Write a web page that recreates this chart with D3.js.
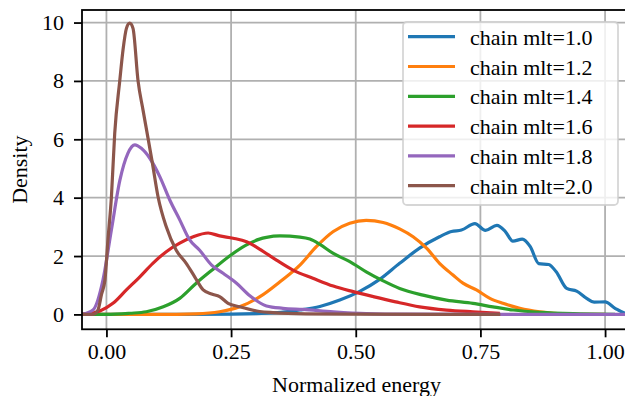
<!DOCTYPE html>
<html lang="en">
<head>
<meta charset="utf-8">
<script src="https://d3js.org/d3.v7.min.js"></script>
<style>
  body { margin: 0; background: #fff; }
  text { font-family: "Liberation Serif", "DejaVu Serif", serif; fill: #000; }
</style>
</head>
<body>
<div id="chart"></div>
<script>
    // legend labels, one per series
    const labels = ["chain mlt=1.0", "chain mlt=1.2", "chain mlt=1.4", "chain mlt=1.6", "chain mlt=1.8", "chain mlt=2.0"]
    const colors = ["#1f77b4", "#ff7f0e", "#2ca02c", "#d62728", "#9467bd", "#8c564b"]

    // tick values
    const xTicks = [0, 0.25, 0.5, 0.75, 1.0]
    const yTicks = [0, 2, 4, 6, 8, 10]

    // density curves (x = normalized energy, y = density)
    const x10 = [-0.05, 0.15, 0.25, 0.30, 0.35, 0.388, 0.428, 0.468, 0.508, 0.548, 0.588, 0.628, 0.668, 0.692, 0.712, 0.739, 0.760, 0.783, 0.800, 0.815, 0.834, 0.850, 0.867, 0.887, 0.902, 0.923, 0.943, 0.963, 0.978, 1.000, 1.020, 1.040, 1.06]
    const y10 = [0, 0, 0.01, 0.03, 0.07, 0.15, 0.27, 0.49, 0.79, 1.2, 1.75, 2.27, 2.66, 2.84, 2.89, 3.11, 2.88, 3.05, 2.84, 2.51, 2.58, 2.32, 1.74, 1.71, 1.46, 0.89, 0.80, 0.55, 0.42, 0.43, 0.21, 0.04, 0]

    const x12 = [-0.05, 0.10, 0.18, 0.227, 0.267, 0.307, 0.348, 0.388, 0.421, 0.455, 0.488, 0.521, 0.555, 0.588, 0.615, 0.642, 0.668, 0.695, 0.715, 0.742, 0.769, 0.795, 0.829, 0.869, 0.92, 0.97, 1.0]
    const y12 = [0, 0, 0.02, 0.09, 0.26, 0.60, 1.12, 1.69, 2.32, 2.84, 3.12, 3.22, 3.15, 2.93, 2.66, 2.27, 1.75, 1.35, 1.07, 0.84, 0.55, 0.38, 0.21, 0.09, 0.02, 0, 0]

    const x14 = [-0.05, 0.0, 0.047, 0.080, 0.114, 0.147, 0.180, 0.214, 0.247, 0.281, 0.307, 0.321, 0.348, 0.388, 0.408, 0.428, 0.455, 0.488, 0.521, 0.555, 0.588, 0.635, 0.682, 0.735, 0.775, 0.816, 0.869, 0.95, 1.02]
    const y14 = [0, 0, 0.04, 0.09, 0.26, 0.55, 1.07, 1.55, 2.0, 2.38, 2.58, 2.64, 2.69, 2.65, 2.58, 2.40, 2.09, 1.81, 1.46, 1.15, 0.89, 0.66, 0.49, 0.38, 0.26, 0.15, 0.07, 0.02, 0]

    const x16 = [-0.05, -0.013, 0.013, 0.040, 0.067, 0.093, 0.120, 0.147, 0.174, 0.204, 0.227, 0.254, 0.281, 0.307, 0.341, 0.374, 0.414, 0.455, 0.495, 0.535, 0.58, 0.628, 0.682, 0.735, 0.789]
    const y16 = [0, 0.12, 0.38, 0.84, 1.29, 1.75, 2.15, 2.44, 2.66, 2.79, 2.69, 2.61, 2.49, 2.24, 1.86, 1.52, 1.24, 0.97, 0.78, 0.61, 0.43, 0.26, 0.15, 0.09, 0.04]

    const x18 = [-0.05, -0.027, -0.007, 0.010, 0.027, 0.043, 0.057, 0.070, 0.087, 0.107, 0.127, 0.147, 0.167, 0.187, 0.211, 0.234, 0.261, 0.287, 0.321, 0.354, 0.394, 0.455, 0.521, 0.6, 1.06]
    const y18 = [0, 0.15, 1.18, 2.9, 4.6, 5.52, 5.81, 5.69, 5.35, 4.72, 3.92, 3.24, 2.55, 2.2, 1.69, 1.41, 1.07, 0.65, 0.29, 0.21, 0.17, 0.09, 0.03, 0.01, 0]

    const x20 = [-0.05, -0.027, -0.017, -0.010, -0.003, 0.003, 0.010, 0.0166, 0.0267, 0.0333, 0.0401, 0.0467, 0.0533, 0.0634, 0.0734, 0.0834, 0.092, 0.1035, 0.120, 0.140, 0.160, 0.177, 0.194, 0.211, 0.227, 0.244, 0.267, 0.307, 0.334, 0.4, 0.5, 0.79]
    const y20 = [0, 0, 0.15, 0.68, 1.18, 2.55, 4.03, 6.2, 8.0, 9.07, 9.8, 9.98, 9.8, 8.0, 7.0, 6.04, 5.2, 4.03, 3.0, 2.2, 1.75, 1.29, 0.84, 0.70, 0.61, 0.38, 0.26, 0.10, 0.06, 0.02, 0.01, 0]

    const seriesX = [x10, x12, x14, x16, x18, x20]
    const seriesY = [y10, y12, y14, y16, y18, y20]

    // plot box
    const W = 625, H = 396
    const margin = { left: 82, right: 631, top: 10, bottom: 329.3 }

    const svg = d3.select("#chart").append("svg")
        .attr("width", W)
        .attr("height", H)

    const x = d3.scaleLinear().domain([-0.049, 1.052]).range([margin.left, margin.right])
    const y = d3.scaleLinear().domain([-0.51, 10.43]).range([margin.bottom, margin.top])

    svg.append("clipPath").attr("id", "clip")
        .append("rect")
        .attr("x", margin.left).attr("y", margin.top)
        .attr("width", margin.right - margin.left).attr("height", margin.bottom - margin.top)

    // grid
    const grid = svg.append("g")
    grid.selectAll(".gx").data(xTicks).enter().append("line")
        .attr("x1", d => x(d)).attr("x2", d => x(d))
        .attr("y1", margin.top).attr("y2", margin.bottom)
        .attr("stroke", "#b0b0b0").attr("stroke-width", 1.8)
    grid.selectAll(".gy").data(yTicks).enter().append("line")
        .attr("x1", margin.left).attr("x2", margin.right)
        .attr("y1", d => y(d)).attr("y2", d => y(d))
        .attr("stroke", "#b0b0b0").attr("stroke-width", 1.8)

    // curves
    const line = d3.line()
        .x(d => x(d[0]))
        .y(d => y(d[1]))
        .curve(d3.curveMonotoneX)

    svg.append("g").attr("clip-path", "url(#clip)")
        .selectAll("path")
        .data(seriesX.map((xs, i) => xs.map((v, j) => [v, seriesY[i][j]])))
        .enter().append("path")
        .attr("d", line)
        .attr("fill", "none")
        .attr("stroke", (d, i) => colors[i])
        .attr("stroke-width", 3.2)
        .attr("stroke-linejoin", "round")
        .attr("stroke-linecap", "butt")

    // axes
    const xAxis = svg.append("g")
        .attr("transform", "translate(0," + margin.bottom + ")")
        .call(d3.axisBottom(x).tickValues(xTicks).tickFormat(d3.format(".2f")).tickSize(8).tickPadding(6))
    const yAxis = svg.append("g")
        .attr("transform", "translate(" + margin.left + ",0)")
        .call(d3.axisLeft(y).tickValues(yTicks).tickFormat(d3.format("d")).tickSize(8).tickPadding(10))

    for (const ax of [xAxis, yAxis]) {
        ax.select(".domain").remove()
        ax.selectAll(".tick line").attr("stroke", "#000").attr("stroke-width", 1.8)
        ax.selectAll(".tick text")
            .attr("font-family", '"Liberation Serif", serif')
            .attr("font-size", 22)
    }

    // spines
    svg.append("rect")
        .attr("x", margin.left).attr("y", margin.top)
        .attr("width", margin.right - margin.left).attr("height", margin.bottom - margin.top)
        .attr("fill", "none").attr("stroke", "#000").attr("stroke-width", 1.8)

    // axis labels
    svg.append("text")
        .attr("x", (margin.left + margin.right) / 2).attr("y", 392)
        .attr("text-anchor", "middle").attr("font-size", 22)
        .text("Normalized energy")
    svg.append("text")
        .attr("transform", "translate(27," + (margin.top + margin.bottom) / 2 + ") rotate(-90)")
        .attr("text-anchor", "middle").attr("font-size", 22)
        .text("Density")

    // legend
    const legend = svg.append("g")
    legend.append("rect")
        .attr("x", 403).attr("y", 22)
        .attr("width", 215).attr("height", 183)
        .attr("rx", 4)
        .attr("fill", "#fff").attr("fill-opacity", 0.8)
        .attr("stroke", "#cccccc").attr("stroke-opacity", 0.8).attr("stroke-width", 1.8)

    const rows = legend.selectAll(".row").data(labels).enter().append("g")
        .attr("transform", (d, i) => "translate(0," + (36.7 + i * 29.8) + ")")
    rows.append("line")
        .attr("x1", 408).attr("x2", 455)
        .attr("stroke", (d, i) => colors[i]).attr("stroke-width", 3.2)
    rows.append("text")
        .attr("x", 470).attr("y", 8)
        .attr("font-size", 22)
        .text(d => d)
</script>
</body>
</html>
